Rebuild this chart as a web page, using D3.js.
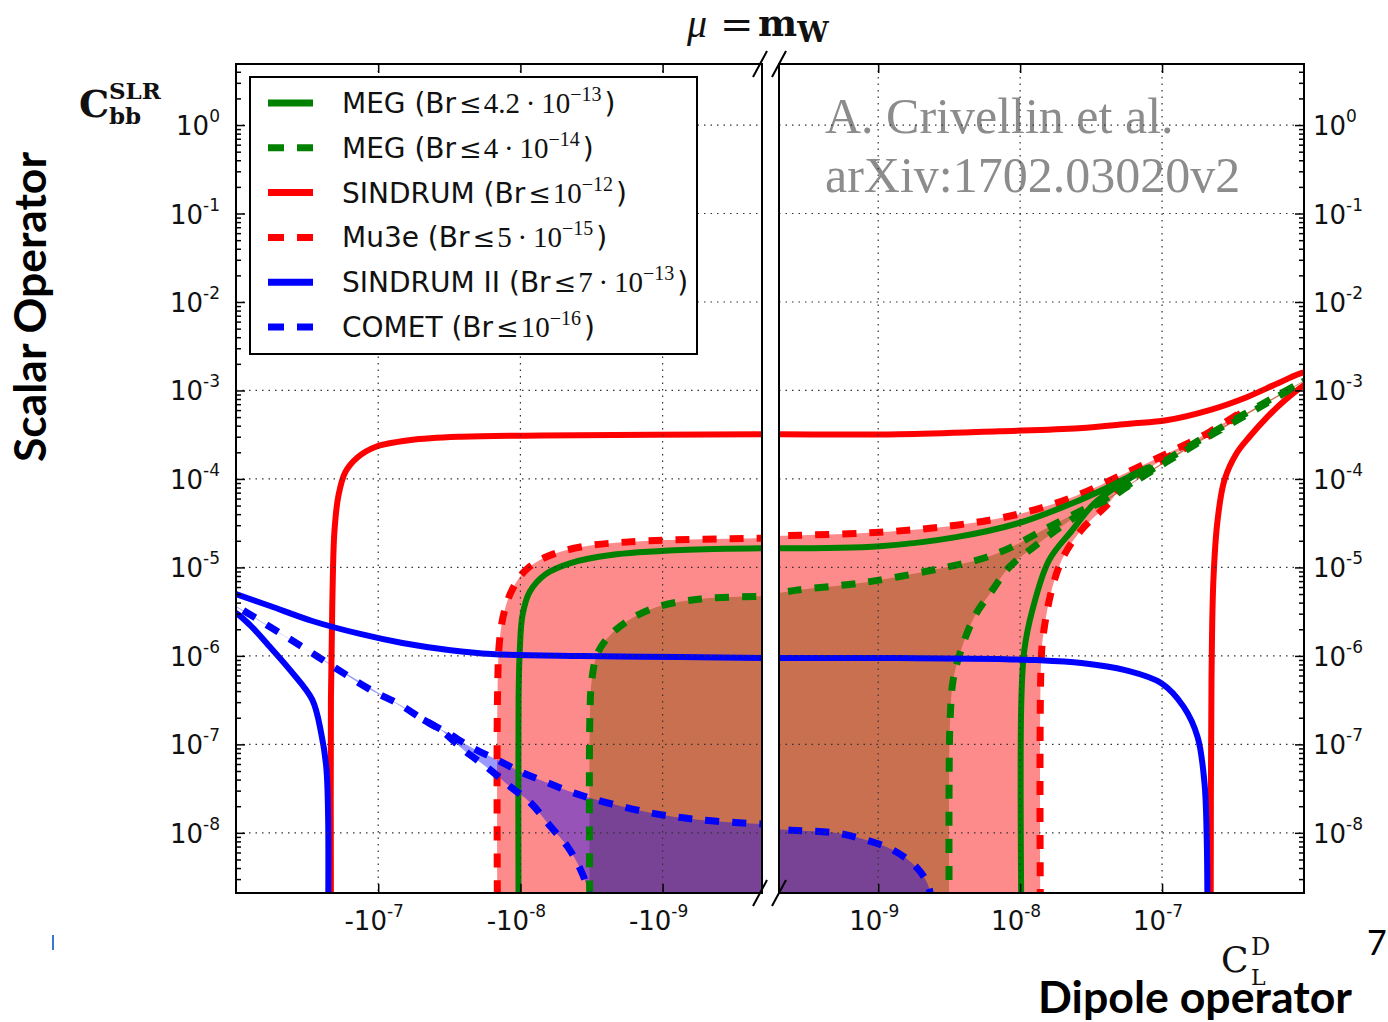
<!DOCTYPE html>
<html>
<head>
<meta charset="utf-8">
<script src="https://cdn.jsdelivr.net/npm/d3@7"></script>
<style>
  body { margin: 0; background: #fff; }
  svg { display: block; }
</style>
</head>
<body>
<div id="chart"></div>
<script>
// Dados (C_L^D, C_bb^SLR)
const yMajor = [1e0, 1e-1, 1e-2, 1e-3, 1e-4, 1e-5, 1e-6, 1e-7, 1e-8];
const yExp = ["0", "-1", "-2", "-3", "-4", "-5", "-6", "-7", "-8"];
const xTicksLeft = [-1e-7, -1e-8, -1e-9];
const xExpLeft = ["-7", "-8", "-9"];
const xTicksRight = [1e-9, 1e-8, 1e-7];
const xExpRight = ["-9", "-8", "-7"];

const legendNames = ["MEG", "MEG", "SINDRUM", "Mu3e", "SINDRUM II", "COMET"];
const legendMant = ["4.2", "4", "", "5", "7", ""];
const legendExp = ["\u221213", "\u221214", "\u221212", "\u221215", "\u221213", "\u221216"];

// SINDRUM (linha vermelha)
const sindrumLeft = [[-2.15e-7, 1e-9], [-2.15e-7, 3.2e-7], [-2.1e-7, 4.3e-6], [-2.03e-7, 2.6e-5], [-1.9e-7, 6.6e-5],
  [-1.7e-7, 1.2e-4], [-1.4e-7, 1.75e-4], [-1.05e-7, 2.3e-4], [-5.9e-8, 2.75e-4], [-2.6e-8, 3.0e-4],
  [-7.2e-9, 3.1e-4], [-1.5e-10, 3.2e-4]];
const sindrumRight = [[1.5e-10, 3.2e-4], [1.4e-9, 3.2e-4], [7.1e-9, 3.46e-4], [2.6e-8, 3.74e-4], [5.9e-8, 4.2e-4],
  [1.07e-7, 4.6e-4], [2.16e-7, 6.0e-4], [3.95e-7, 8.4e-4], [6.8e-7, 1.24e-3], [1e-6, 1.6e-3], [1.4e-6, 1.6e-3],
  [1e-6, 1.15e-3], [7.3e-7, 7.7e-4], [5.5e-7, 5.0e-4], [4.1e-7, 2.96e-4], [3.35e-7, 1.95e-4], [2.75e-7, 9.7e-5],
  [2.46e-7, 3.4e-5], [2.3e-7, 7.2e-6], [2.23e-7, 5.4e-7], [2.2e-7, 1e-9]];

// Mu3e (tracejada vermelha)
const mu3eLeft = [[-1.45e-8, 1e-9], [-1.45e-8, 3.2e-7], [-1.40e-8, 1.51e-6], [-1.29e-8, 3.3e-6], [-1.13e-8, 5.8e-6],
  [-9.2e-9, 9.3e-6], [-6.6e-9, 1.31e-5], [-3.77e-9, 1.7e-5], [-1.42e-9, 1.98e-5], [-1.5e-10, 2.15e-5]];
const mu3eRight = [[1.5e-10, 2.25e-5], [1.03e-9, 2.5e-5], [3.54e-9, 3.0e-5], [9.7e-9, 4.0e-5], [2.33e-8, 6.2e-5],
  [5.5e-8, 1.16e-4], [1.13e-7, 2.0e-4], [2.16e-7, 3.4e-4], [3.8e-7, 6.0e-4], [2.16e-7, 3.1e-4], [1.13e-7, 1.8e-4],
  [5.5e-8, 8.9e-5], [4.2e-8, 5.3e-5], [2.7e-8, 2.64e-5], [2.01e-8, 1.31e-5], [1.69e-8, 6.0e-6], [1.48e-8, 2.1e-6],
  [1.41e-8, 9.7e-7], [1.39e-8, 1e-9]];

// MEG 4.2e-13 (verde)
const megLeft = [[-1.03e-8, 1e-9], [-1.03e-8, 3.2e-7], [-1.01e-8, 1.16e-6], [-9.66e-9, 2.9e-6], [-8.6e-9, 5.3e-6],
  [-6.64e-9, 8.4e-6], [-4.43e-9, 1.12e-5], [-2.31e-9, 1.38e-5], [-7.4e-10, 1.57e-5], [-1.5e-10, 1.65e-5]];
const megRight = [[1.5e-10, 1.65e-5], [1.03e-9, 1.74e-5], [3.54e-9, 2.2e-5], [9.7e-9, 3.16e-5], [2.33e-8, 5.3e-5],
  [4.2e-8, 8.1e-5], [5.9e-8, 1.07e-4], [8.1e-8, 1.36e-4], [5.0e-8, 8.6e-5], [3.33e-8, 5.3e-5], [2.33e-8, 2.64e-5],
  [1.6e-8, 1.21e-5], [1.22e-8, 3.3e-6], [1.07e-8, 1.16e-6], [1.02e-8, 3.2e-7], [1.02e-8, 1e-9]];

// MEG 4e-14 (tracejada verde)
const meg14Left = [[-3.25e-9, 1e-9], [-3.25e-9, 1.89e-7], [-3.15e-9, 5.3e-7], [-2.9e-9, 1.02e-6], [-2.51e-9, 1.51e-6],
  [-1.82e-9, 2.4e-6], [-1.1e-9, 3.56e-6], [-5.4e-10, 4.4e-6], [-1.5e-10, 4.74e-6]];
const meg14Right = [[1.5e-10, 4.74e-6], [2.59e-10, 5.5e-6], [8.2e-10, 6.8e-6], [3.06e-9, 1.01e-5], [5.5e-9, 1.27e-5],
  [8.4e-9, 1.65e-5], [1.36e-8, 2.5e-5], [2.33e-8, 3.9e-5], [4.2e-8, 6.2e-5], [5.5e-8, 8.1e-5], [1.07e-7, 1.63e-4],
  [2.16e-7, 3.2e-4], [4.9e-7, 6.8e-4], [1.1e-6, 1.4e-3], [4.9e-7, 6.5e-4], [2.16e-7, 3.05e-4], [1.07e-7, 1.55e-4],
  [5.5e-8, 7.9e-5], [4.2e-8, 5.9e-5], [3.08e-8, 4.7e-5], [2.01e-8, 3.0e-5], [1.3e-8, 1.79e-5], [8.4e-9, 1.01e-5],
  [6.36e-9, 5.5e-6], [4.75e-9, 2.75e-6], [3.78e-9, 1.08e-6], [3.37e-9, 5.3e-7], [3.21e-9, 1.89e-7], [3.16e-9, 4e-8],
  [3.16e-9, 1e-9]];

// SINDRUM II (azul)
const sindrum2Left = [[-1.3e-6, 5.8e-6], [-1e-6, 5.0e-6], [-5.75e-7, 3.66e-6], [-2.91e-7, 2.48e-6], [-1.34e-7, 1.77e-6],
  [-6.76e-8, 1.4e-6], [-3.1e-8, 1.16e-6], [-1.6e-8, 1.05e-6], [-3.77e-9, 9.96e-7], [-7.4e-10, 9.7e-7], [-1.5e-10, 9.45e-7]];
const sindrum2LeftLow = [[-1.3e-6, 3.6e-6], [-1e-6, 3.05e-6], [-7.97e-7, 2.23e-6], [-5.94e-7, 1.33e-6], [-4.16e-7, 6.9e-7],
  [-2.91e-7, 3.2e-7], [-2.52e-7, 1.35e-7], [-2.32e-7, 5.6e-8], [-2.25e-7, 1.51e-8], [-2.25e-7, 1e-9]];
const sindrum2Right = [[1.5e-10, 9.45e-7], [1.4e-9, 9.45e-7], [7.1e-9, 9.2e-7], [1.3e-8, 8.97e-7], [2.7e-8, 8.3e-7],
  [5.5e-8, 6.9e-7], [9.9e-8, 4.9e-7], [1.42e-7, 2.65e-7], [1.78e-7, 1.21e-7], [1.99e-7, 3.66e-8], [2.06e-7, 1e-8],
  [2.09e-7, 1e-9]];

// COMET (tracejada azul)
const cometLeftTop = [[-1.3e-6, 4.6e-6], [-1e-6, 3.66e-6], [-5.75e-7, 2.12e-6], [-3.32e-7, 1.23e-6], [-2.0e-7, 7.3e-7],
  [-1.12e-7, 4.1e-7], [-6.98e-8, 2.79e-7], [-4.8e-8, 1.89e-7], [-3.26e-8, 1.35e-7], [-2.24e-8, 9.35e-8],
  [-1.45e-8, 6.67e-8], [-1e-8, 4.9e-8], [-6.43e-9, 3.67e-8], [-4.22e-9, 2.83e-8], [-2.6e-9, 2.24e-8],
  [-1.21e-9, 1.68e-8], [-5.4e-10, 1.4e-8], [-1.5e-10, 1.23e-8]];
const cometLeftLow = [[-4.8e-8, 1.89e-7], [-3.65e-8, 1.46e-7], [-2.51e-8, 8.65e-8], [-1.7e-8, 5.42e-8], [-1.17e-8, 3.3e-8],
  [-8.47e-9, 2.18e-8], [-6.12e-9, 1.17e-8], [-4.65e-9, 6.94e-9], [-3.77e-9, 3.81e-9], [-3.36e-9, 2.26e-9],
  [-3.2e-9, 1e-9]];
const cometRight = [[1.5e-10, 1.14e-8], [2.43e-10, 1.07e-8], [4.96e-10, 1e-8], [8.2e-10, 8.3e-9], [1.27e-9, 6.4e-9],
  [1.85e-9, 4.12e-9], [2.21e-9, 2.72e-9], [2.36e-9, 1.8e-9], [2.42e-9, 1e-9]];

// Estilos
const RED = "#ff0000", GREEN = "#008000", BLUE = "#0000ff";
const DASH = "14,13";
const legendColors = [GREEN, GREEN, RED, RED, BLUE, BLUE];
const legendDashed = [false, true, false, true, false, true];

const W = 1388, H = 1022;
const yTop = 64, yBot = 893;
const leftA = 236, leftB = 762, rightA = 779, rightB = 1304;

const svg = d3.select("#chart").append("svg")
  .attr("width", W).attr("height", H)
  .style("background", "#fff");

const xL = d3.scaleLog().domain([-1e-6, -2e-10]).range([leftA, leftB]);
const xR = d3.scaleLog().domain([2e-10, 1e-6]).range([rightA, rightB]);
const y = d3.scaleLog().domain([Math.pow(10, -8.68), Math.pow(10, 0.69)]).range([yBot, yTop]);

// Ticks menores do eixo y
const yMinor = [];
for (let e = -9; e <= 0; e++) {
  for (let m = 2; m <= 9; m++) {
    const v = m * Math.pow(10, e);
    if (v > y.domain()[0] && v < y.domain()[1]) yMinor.push(v);
  }
}

const defs = svg.append("defs");
defs.append("clipPath").attr("id", "clipL").append("rect")
  .attr("x", leftA).attr("y", yTop).attr("width", leftB - leftA).attr("height", yBot - yTop);
defs.append("clipPath").attr("id", "clipR").append("rect")
  .attr("x", rightA).attr("y", yTop).attr("width", rightB - rightA).attr("height", yBot - yTop);

const gL = svg.append("g").attr("clip-path", "url(#clipL)");
const gR = svg.append("g").attr("clip-path", "url(#clipR)");

const curve = d3.curveCatmullRom.alpha(0.5);
const lineL = d3.line().x(d => xL(d[0])).y(d => y(d[1])).curve(curve);
const lineR = d3.line().x(d => xR(d[0])).y(d => y(d[1])).curve(curve);

const cornerL = [xL(-1e-10), y(1e-9)];
const cornerR = [xR(1e-10), y(1e-9)];

// Áreas preenchidas
function fillL(pts, color, op) {
  gL.append("path").attr("d", lineL(pts) + `L${cornerL[0]},${cornerL[1]}Z`)
    .attr("fill", color).attr("fill-opacity", op).attr("stroke", "none");
}
function fillR(pts, color, op) {
  gR.append("path").attr("d", lineR(pts) + `L${cornerR[0]},${cornerR[1]}Z`)
    .attr("fill", color).attr("fill-opacity", op).attr("stroke", "none");
}

fillL(mu3eLeft, "#fe8b8b", 1);
fillR(mu3eRight, "#fe8b8b", 1);
fillL(meg14Left, "#c8704f", 1);
fillR(meg14Right, "#c8704f", 1);

// COMET: região entre os dois ramos
gL.append("path")
  .attr("d", lineL(cometLeftTop) + `L${cornerL[0]},${cornerL[1]}` +
    lineL(cometLeftLow.slice().reverse()).replace(/^M/, "L") + "Z")
  .attr("fill", BLUE).attr("fill-opacity", 0.4);
fillR(cometRight, BLUE, 0.4);

// Marca d'água
const wm = svg.append("g").attr("font-family", "'Liberation Serif', 'Times New Roman', serif")
  .attr("font-size", 50).attr("fill", "#8c8c8c");
wm.append("text").attr("x", 825).attr("y", 133).text("A. Crivellin et al.");
wm.append("text").attr("x", 825).attr("y", 192).text("arXiv:1702.03020v2");

// Grade pontilhada
const grid = svg.append("g").attr("stroke", "#333").attr("stroke-width", 1.2)
  .attr("stroke-dasharray", "1.5,5");
[[leftA, leftB], [rightA, rightB]].forEach(([a, b]) => {
  grid.selectAll(null).data(yMajor).join("line")
    .attr("x1", a).attr("x2", b).attr("y1", d => y(d)).attr("y2", d => y(d));
});
grid.selectAll(null).data(xTicksLeft).join("line")
  .attr("x1", d => xL(d)).attr("x2", d => xL(d)).attr("y1", yTop).attr("y2", yBot);
grid.selectAll(null).data(xTicksRight).join("line")
  .attr("x1", d => xR(d)).attr("x2", d => xR(d)).attr("y1", yTop).attr("y2", yBot);

// Curvas
function drawL(pts, color, dashed, w) {
  gL.append("path").attr("d", lineL(pts)).attr("fill", "none").attr("stroke", color)
    .attr("stroke-width", w).attr("stroke-dasharray", dashed ? DASH : null);
}
function drawR(pts, color, dashed, w) {
  gR.append("path").attr("d", lineR(pts)).attr("fill", "none").attr("stroke", color)
    .attr("stroke-width", w).attr("stroke-dasharray", dashed ? DASH : null);
}

drawL(sindrumLeft, RED, false, 6);
drawR(sindrumRight, RED, false, 6);
drawL(mu3eLeft, RED, true, 7);
drawR(mu3eRight, RED, true, 7);
drawL(megLeft, GREEN, false, 6);
drawR(megRight, GREEN, false, 6);
drawL(meg14Left, GREEN, true, 7);
drawR(meg14Right, GREEN, true, 7);
drawL(sindrum2Left, BLUE, false, 6);
drawL(sindrum2LeftLow, BLUE, false, 6);
drawR(sindrum2Right, BLUE, false, 6);
drawL(cometLeftTop, BLUE, true, 7);
drawL(cometLeftLow, BLUE, true, 7);
drawR(cometRight, BLUE, true, 7);

// Eixos (ticks para dentro)
function cleanAxis(g) {
  g.select(".domain").remove();
  g.selectAll("line").attr("stroke", "#000").attr("stroke-width", 1.5);
}
svg.append("g").attr("transform", `translate(${leftA},0)`)
  .call(d3.axisRight(y).tickValues(yMajor).tickSize(9).tickFormat("")).call(cleanAxis);
svg.append("g").attr("transform", `translate(${leftA},0)`)
  .call(d3.axisRight(y).tickValues(yMinor).tickSize(5).tickFormat("")).call(cleanAxis);
svg.append("g").attr("transform", `translate(${rightB},0)`)
  .call(d3.axisLeft(y).tickValues(yMajor).tickSize(9).tickFormat("")).call(cleanAxis);
svg.append("g").attr("transform", `translate(${rightB},0)`)
  .call(d3.axisLeft(y).tickValues(yMinor).tickSize(5).tickFormat("")).call(cleanAxis);
[[xL, xTicksLeft], [xR, xTicksRight]].forEach(([sc, tv]) => {
  svg.append("g").attr("transform", `translate(0,${yBot})`)
    .call(d3.axisTop(sc).tickValues(tv).tickSize(9).tickFormat("")).call(cleanAxis);
  svg.append("g").attr("transform", `translate(0,${yTop})`)
    .call(d3.axisBottom(sc).tickValues(tv).tickSize(9).tickFormat("")).call(cleanAxis);
});

// Molduras
svg.append("rect").attr("x", leftA).attr("y", yTop).attr("width", leftB - leftA).attr("height", yBot - yTop)
  .attr("fill", "none").attr("stroke", "#000").attr("stroke-width", 2);
svg.append("rect").attr("x", rightA).attr("y", yTop).attr("width", rightB - rightA).attr("height", yBot - yTop)
  .attr("fill", "none").attr("stroke", "#000").attr("stroke-width", 2);

// Marcas de quebra do eixo
const brk = svg.append("g").attr("stroke", "#000").attr("stroke-width", 2);
[yTop, yBot].forEach(yy => {
  [leftB - 2, rightA].forEach(xx => {
    brk.append("line").attr("x1", xx - 7).attr("y1", yy + 13).attr("x2", xx + 7).attr("y2", yy - 13);
  });
});

// Rótulos dos ticks
const tickFont = "'DejaVu Sans', sans-serif";
function supText(g, x, yy, anchor, base, exp) {
  const t = g.append("text").attr("x", x).attr("y", yy).attr("text-anchor", anchor)
    .attr("font-family", tickFont).attr("font-size", 26).attr("fill", "#111");
  t.append("tspan").text(base);
  t.append("tspan").attr("dy", -13).attr("font-size", 17).text(exp);
  return t;
}
const labels = svg.append("g");
yMajor.forEach((v, i) => {
  supText(labels, 220, y(v) + 10, "end", "10", yExp[i]);
  supText(labels, 1313, y(v) + 10, "start", "10", yExp[i]);
});
xTicksLeft.forEach((v, i) => supText(labels, xL(v) - 4, 930, "middle", "-10", xExpLeft[i]));
xTicksRight.forEach((v, i) => supText(labels, xR(v) - 4, 930, "middle", "10", xExpRight[i]));

// Legenda
const leg = svg.append("g");
leg.append("rect").attr("x", 250).attr("y", 77).attr("width", 447).attr("height", 277)
  .attr("fill", "#fff").attr("stroke", "#000").attr("stroke-width", 2);
legendNames.forEach((name, i) => {
  const cy = 103 + i * 44.8;
  leg.append("line").attr("x1", 268).attr("x2", 313).attr("y1", cy).attr("y2", cy)
    .attr("stroke", legendColors[i]).attr("stroke-width", 7)
    .attr("stroke-dasharray", legendDashed[i] ? "16,13" : null);
  const t = leg.append("text").attr("x", 342).attr("y", cy + 10)
    .attr("font-family", tickFont).attr("font-size", 28).attr("fill", "#111");
  t.append("tspan").text(name + " (Br");
  t.append("tspan").attr("font-family", "'DejaVu Serif', serif").attr("font-size", 27).attr("dx", 3)
    .text("\u2264");
  const math = legendMant[i] ? legendMant[i] + "\u2009\u00b7\u200910" : "10";
  t.append("tspan").attr("font-family", "'Liberation Serif', serif").attr("font-size", 29).attr("dx", 2)
    .text(math);
  t.append("tspan").attr("font-family", "'Liberation Serif', serif").attr("font-size", 20)
    .attr("dy", -12).text(legendExp[i]);
  t.append("tspan").attr("dy", 12).attr("dx", 3).text(")");
});

// Título
const title = svg.append("g").attr("fill", "#111");
title.append("text").attr("x", 687).attr("y", 37).attr("font-family", "'Liberation Serif', serif")
  .attr("font-style", "italic").attr("font-size", 40).text("\u03bc");
title.append("text").attr("x", 720).attr("y", 38).attr("font-family", "'DejaVu Serif', serif")
  .attr("font-size", 40).text("=");
const mt = title.append("text").attr("x", 758).attr("y", 36).attr("font-family", "'DejaVu Serif', serif")
  .attr("font-weight", "bold");
mt.append("tspan").attr("font-size", 37).text("m");
mt.append("tspan").attr("font-size", 28).attr("dy", 6).text("W");

// Rótulo eixo y (C_bb^SLR)
svg.append("text").attr("x", 79).attr("y", 117).attr("font-family", "'DejaVu Serif', serif")
  .attr("font-weight", "bold").attr("font-size", 38).attr("fill", "#111").text("C");
svg.append("text").attr("x", 109).attr("y", 99).attr("font-family", "'DejaVu Serif', serif")
  .attr("font-weight", "bold").attr("font-size", 23).attr("fill", "#111").text("SLR");
svg.append("text").attr("x", 109).attr("y", 124).attr("font-family", "'DejaVu Serif', serif")
  .attr("font-weight", "bold").attr("font-size", 23).attr("fill", "#111").text("bb");

// Rótulo eixo x (C_L^D)
svg.append("text").attr("x", 1221).attr("y", 972).attr("font-family", "'DejaVu Serif', serif")
  .attr("font-size", 36).attr("fill", "#111").text("C");
svg.append("text").attr("x", 1251).attr("y", 955).attr("font-family", "'DejaVu Serif', serif")
  .attr("font-size", 24).attr("fill", "#111").text("D");
svg.append("text").attr("x", 1251).attr("y", 985).attr("font-family", "'DejaVu Serif', serif")
  .attr("font-size", 22).attr("fill", "#111").text("L");

// Títulos grandes
svg.append("text").attr("transform", "translate(46,307) rotate(-90)").attr("text-anchor", "middle")
  .attr("font-family", "Lato, 'Open Sans', sans-serif").attr("font-weight", "bold").attr("font-size", 44)
  .attr("textLength", 310).attr("lengthAdjust", "spacingAndGlyphs")
  .attr("fill", "#000").text("Scalar Operator");
svg.append("text").attr("x", 1038).attr("y", 1013)
  .attr("font-family", "Lato, 'Open Sans', sans-serif").attr("font-weight", "bold").attr("font-size", 44)
  .attr("textLength", 314).attr("lengthAdjust", "spacingAndGlyphs")
  .attr("fill", "#000").text("Dipole operator");
svg.append("text").attr("x", 1367).attr("y", 955)
  .attr("font-family", "Lato, 'Open Sans', sans-serif").attr("font-size", 34)
  .attr("fill", "#000").text("7");
svg.append("rect").attr("x", 52).attr("y", 935).attr("width", 2).attr("height", 15).attr("fill", "#3a78d0");
</script>
</body>
</html>
